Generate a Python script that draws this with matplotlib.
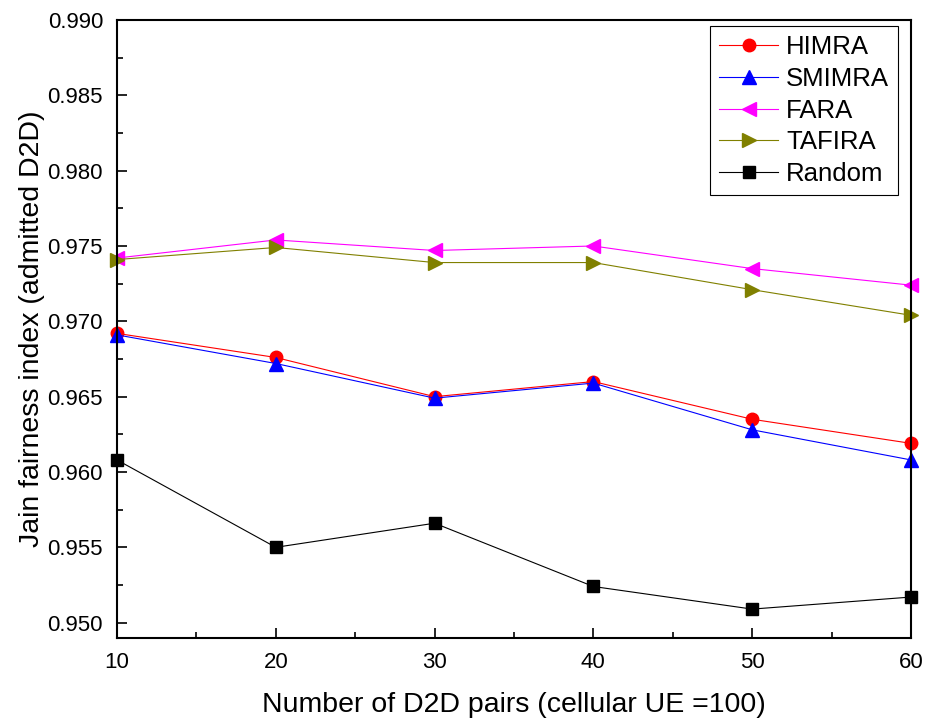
import numpy as np
import matplotlib.pyplot as plt
from matplotlib.ticker import MultipleLocator

plt.rcParams['font.family'] = ['Liberation Sans', 'DejaVu Sans']

# data
x = [10, 20, 30, 40, 50, 60]
himra = [0.9692, 0.9676, 0.9650, 0.9660, 0.9635, 0.9619]
smimra = [0.9691, 0.9672, 0.9649, 0.9659, 0.9628, 0.9608]
fara = [0.9742, 0.9754, 0.9747, 0.9750, 0.9735, 0.9724]
tafira = [0.9741, 0.9749, 0.9739, 0.9739, 0.9721, 0.9704]
random_ = [0.9608, 0.9550, 0.9566, 0.9524, 0.9509, 0.9517]

fig = plt.figure(figsize=(9.27, 7.21), dpi=100)
ax = fig.add_axes([0.1262, 0.1155, 0.8565, 0.8568])

ax.plot(x, himra, color='red', marker='o', lw=0.8, ms=9, label='HIMRA', clip_on=False)
ax.plot(x, smimra, color='blue', marker='^', lw=0.8, ms=10, label='SMIMRA', clip_on=False)
ax.plot(x, fara, color='magenta', marker='<', lw=0.8, ms=10, label='FARA', clip_on=False)
ax.plot(x, tafira, color='olive', marker='>', lw=0.8, ms=10, label='TAFIRA', clip_on=False)
ax.plot(x, random_, color='black', marker='s', lw=0.8, ms=8, label='Random', clip_on=False)

ax.set_xlim(10, 60)
ax.set_ylim(0.949, 0.990)
ax.xaxis.set_major_locator(MultipleLocator(10))
ax.xaxis.set_minor_locator(MultipleLocator(5))
ax.yaxis.set_major_locator(MultipleLocator(0.005))
ax.yaxis.set_minor_locator(MultipleLocator(0.0025))
ax.yaxis.set_major_formatter(plt.FormatStrFormatter('%.3f'))
ax.tick_params(which='both', direction='in', labelsize=16, width=1.2)
ax.tick_params(which='major', length=7, pad=10)
ax.tick_params(which='minor', length=4)
for s in ax.spines.values():
    s.set_linewidth(1.5)

ax.set_xlabel('Number of D2D pairs (cellular UE =100)', fontsize=20.5, labelpad=14)
ax.set_ylabel('Jain fairness index (admitted D2D)', fontsize=20.5, labelpad=2)

leg = ax.legend(loc='upper right', bbox_to_anchor=(0.9836, 0.990), fontsize=18.5,
                fancybox=False, edgecolor='black', handlelength=2.3, handletextpad=0.3,
                labelspacing=0.3, borderaxespad=0, borderpad=0.35, framealpha=1)
leg.get_frame().set_linewidth(0.8)

fig.savefig('out.png', dpi=100)
